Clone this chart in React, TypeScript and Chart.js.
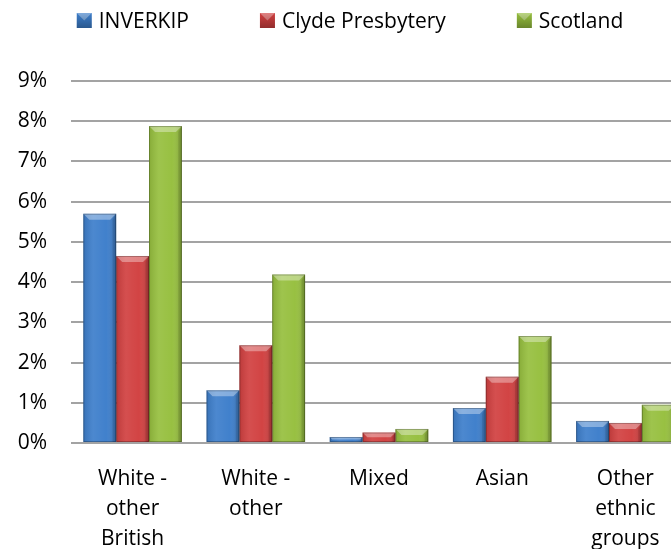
import React, { useEffect, useRef } from 'react';
import { Chart, registerables } from 'chart.js';

Chart.register(...registerables);

const categories: string[][] = [
  ['White -', 'other', 'British'],
  ['White -', 'other'],
  ['Mixed'],
  ['Asian'],
  ['Other', 'ethnic', 'groups'],
];
const seriesNames = ['INVERKIP', 'Clyde Presbytery', 'Scotland'];
const inverkip = [5.7, 1.31, 0.15, 0.87, 0.55];
const clyde = [4.65, 2.43, 0.26, 1.65, 0.5];
const scotland = [7.88, 4.19, 0.35, 2.66, 0.95];
const seriesColors = ['#3D7ECB', '#D14040', '#96BF3E'];
const yMin = 0;
const yMax = 9;
const yStep = 1;

const FONT = '"Open Sans", "Liberation Sans", sans-serif';
const FS = 21;

const bevelPlugin = {
  id: 'bevel',
  afterDatasetsDraw(chart: any) {
    const ctx = chart.ctx;
    chart.data.datasets.forEach((_ds: any, di: number) => {
      const meta = chart.getDatasetMeta(di);
      meta.data.forEach((el: any) => {
        const { x, y, base, width } = el.getProps(['x', 'y', 'base', 'width'], true);
        const l = x - width / 2;
        const r = x + width / 2;
        const t = Math.min(y, base);
        const b = Math.max(y, base);
        const h = b - t;
        if (h <= 0) return;
        const bev = Math.min(6, h / 2);
        ctx.save();
        const g = ctx.createLinearGradient(l, 0, r, 0);
        g.addColorStop(0, 'rgba(0,0,0,0.10)');
        g.addColorStop(0.3, 'rgba(255,255,255,0.08)');
        g.addColorStop(0.7, 'rgba(255,255,255,0.02)');
        g.addColorStop(1, 'rgba(0,0,0,0.20)');
        ctx.fillStyle = g;
        ctx.fillRect(l, t, width, h);
        ctx.beginPath();
        ctx.moveTo(l, t);
        ctx.lineTo(r, t);
        ctx.lineTo(r - bev, t + bev);
        ctx.lineTo(l + bev, t + bev);
        ctx.closePath();
        ctx.fillStyle = 'rgba(255,255,255,0.35)';
        ctx.fill();
        ctx.beginPath();
        ctx.moveTo(r, t);
        ctx.lineTo(r - bev * 0.6, t + bev);
        ctx.lineTo(r - bev * 0.6, b);
        ctx.lineTo(r, b);
        ctx.closePath();
        ctx.fillStyle = 'rgba(0,0,0,0.10)';
        ctx.fill();
        ctx.strokeStyle = 'rgba(0,0,0,0.25)';
        ctx.lineWidth = 1;
        ctx.strokeRect(l + 0.5, t + 0.5, width - 1, h - 1);
        ctx.restore();
      });
    });
  },
};

const legendPlugin = {
  id: 'customLegend',
  afterDraw(chart: any) {
    const ctx = chart.ctx;
    ctx.save();
    ctx.font = `${FS}px ${FONT}`;
    ctx.textBaseline = 'middle';
    ctx.textAlign = 'left';
    const box = 15;
    const gap = 7;
    const spacing = 71;
    const items = chart.data.datasets.map((ds: any) => ({
      label: ds.label as string,
      color: ds.backgroundColor as string,
      w: box + gap + ctx.measureText(ds.label).width,
    }));
    const total = items.reduce((s: number, it: any) => s + it.w, 0) + spacing * (items.length - 1);
    let x = chart.width / 2 - total / 2;
    const cy = 20.5;
    items.forEach((it: any) => {
      const bt = cy - box / 2;
      ctx.fillStyle = it.color;
      ctx.fillRect(x, bt, box, box);
      ctx.beginPath();
      ctx.moveTo(x, bt);
      ctx.lineTo(x + box, bt);
      ctx.lineTo(x + box / 2, bt + box / 2);
      ctx.closePath();
      ctx.fillStyle = 'rgba(255,255,255,0.35)';
      ctx.fill();
      const g = ctx.createLinearGradient(0, bt, 0, bt + box);
      g.addColorStop(0, 'rgba(0,0,0,0)');
      g.addColorStop(1, 'rgba(0,0,0,0.3)');
      ctx.fillStyle = g;
      ctx.fillRect(x, bt, box, box);
      ctx.fillStyle = '#000';
      ctx.fillText(it.label, x + box + gap, cy + 1.5);
      x += it.w + spacing;
    });
    ctx.restore();
  },
};

export default function App() {
  const ref = useRef<HTMLCanvasElement>(null);
  useEffect(() => {
    if (!ref.current) return;
    const chart = new Chart(ref.current, {
      type: 'bar',
      data: {
        labels: categories,
        datasets: [
          { label: seriesNames[0], data: inverkip, backgroundColor: seriesColors[0] },
          { label: seriesNames[1], data: clyde, backgroundColor: seriesColors[1] },
          { label: seriesNames[2], data: scotland, backgroundColor: seriesColors[2] },
        ],
      },
      options: {
        responsive: false,
        animation: false,
        layout: { padding: { top: 81, left: 18, right: 13, bottom: 0 } },
        datasets: { bar: { categoryPercentage: 0.8, barPercentage: 1 } },
        plugins: {
          legend: { display: false },
          tooltip: { enabled: false },
        },
        scales: {
          x: {
            grid: { display: false, drawTicks: false },
            border: { display: false },
            afterFit: (scale: any) => {
              scale.height = 106;
            },
            ticks: {
              color: '#000',
              padding: 21,
              maxRotation: 0,
              autoSkip: false,
              font: { family: FONT, size: FS, lineHeight: 30 / FS },
            },
          },
          y: {
            min: yMin,
            max: yMax,
            grid: { color: '#A3A3A3', lineWidth: 2, drawTicks: false },
            border: { display: false },
            afterFit: (scale: any) => {
              scale.width = 53;
            },
            ticks: {
              stepSize: yStep,
              color: '#000',
              padding: 24,
              font: { family: FONT, size: FS },
              callback: (v: any) => `${v}%`,
            },
          },
        },
      },
      plugins: [bevelPlugin, legendPlugin],
    });
    return () => chart.destroy();
  }, []);
  return (
    <div style={{ position: 'fixed', left: 0, top: 0, width: 700, height: 549 }}>
      <canvas ref={ref} width={700} height={549} style={{ display: 'block' }} />
    </div>
  );
}
